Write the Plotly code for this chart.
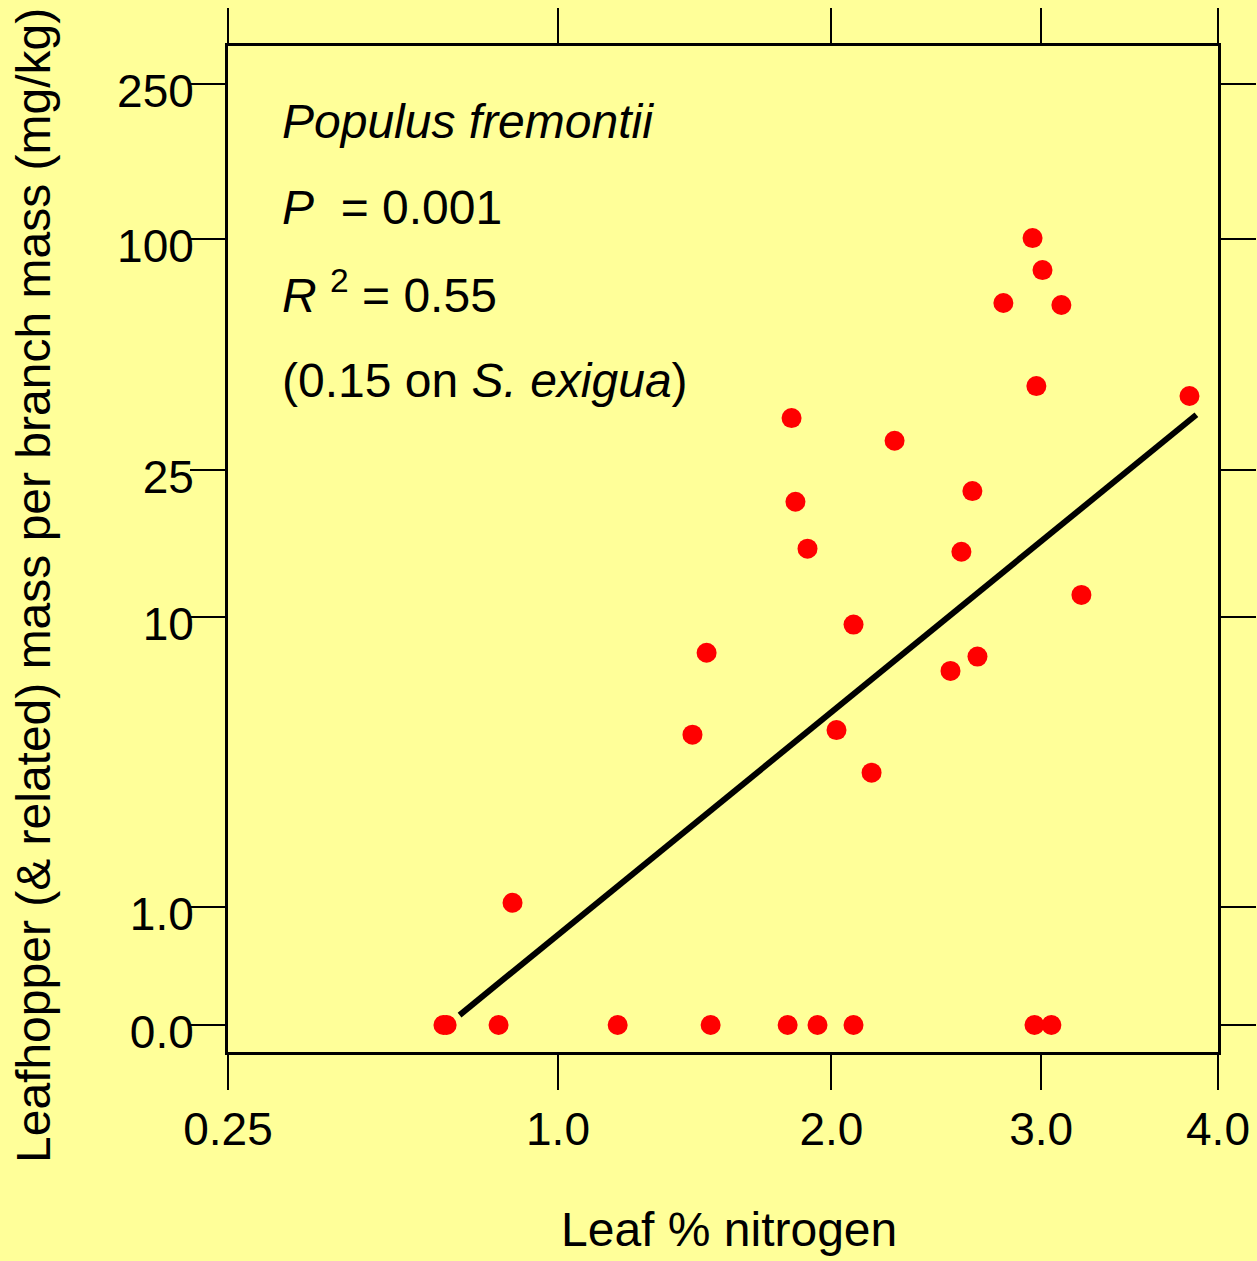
import numpy as np
import plotly.graph_objects as go

# ---- data ----
leaf_n = [0.683, 0.691, 0.828, 1.189, 1.516, 1.817, 1.941, 2.096, 2.965, 3.054,
          0.867, 1.449, 1.501, 1.833, 1.849, 1.899, 2.096, 2.022, 2.176, 2.280,
          2.543, 2.596, 2.650, 2.675, 2.805, 2.955, 3.007, 3.107, 2.975, 3.215, 3.829]
hopper_mass = [0, 0, 0, 0, 0, 0, 0, 0, 0, 0,
               1.05, 4.5, 7.9, 34.3, 20.6, 15.4, 9.5, 4.65, 3.4, 29.9,
               7.0, 15.1, 22.0, 7.7, 68.4, 100.6, 83.2, 67.6, 41.6, 11.5, 39.2]
fit_n = [0.724, 3.87]
fit_mass = [0.06, 35.0]

x_tick_vals = [0.25, 1.0, 2.0, 3.0, 4.0]
x_tick_text = ["0.25", "1.0", "2.0", "3.0", "4.0"]
y_tick_vals = [0, 1, 10, 25, 100, 250]
y_tick_text = ["0.0", "1.0", "10", "25", "100", "250"]


def tx(v):  # square-root scale for leaf % nitrogen
    return np.sqrt(np.asarray(v, dtype=float))


def ty(v):  # log(y+1) scale for mass
    return np.log10(np.asarray(v, dtype=float) + 1.0)


FONT = "Arial, Liberation Sans, sans-serif"
BG = "#FFFF99"

fig = go.Figure()
fig.add_trace(go.Scatter(x=tx(fit_n), y=ty(fit_mass), mode="lines",
                         line=dict(color="black", width=6), hoverinfo="skip",
                         showlegend=False))
fig.add_trace(go.Scatter(x=tx(leaf_n), y=ty(hopper_mass), mode="markers",
                         marker=dict(color="#FF0000", size=20, line=dict(width=0)),
                         showlegend=False))

axis_common = dict(showline=True, linewidth=3, linecolor="black", mirror="ticks",
                   ticks="outside", ticklen=35, tickwidth=2, tickcolor="black",
                   showgrid=False, zeroline=False, automargin=False,
                   tickfont=dict(family=FONT, size=46, color="black"))

fig.update_xaxes(range=[tx(0.25), tx(4.0)], tickmode="array",
                 tickvals=tx(x_tick_vals), ticktext=x_tick_text, **axis_common)
fig.update_yaxes(range=[-0.0689, 2.4968], tickmode="array",
                 tickvals=ty(y_tick_vals), ticktext=y_tick_text,
                 ticklabelshift=7, ticklabelstandoff=-13, **axis_common)

ann_font = dict(family=FONT, size=48, color="black")
lines = [
    ("<i>Populus fremontii</i>", 121),
    ("<i>P</i>\u00a0 = 0.001", 208),
    ("<i>R</i> <sup>2</sup> = 0.55", 292),
    ("(0.15 on <i>S. exigua</i>)", 380),
]
annotations = []
for txt, py in lines:
    annotations.append(dict(text=txt, x=(280 - 228) / 990, y=(1052 - py) / 1006,
                            xref="paper", yref="paper", xanchor="left", yanchor="middle",
                            showarrow=False, font=ann_font))
annotations.append(dict(text="Leaf % nitrogen", x=(729 - 228) / 990, y=(1052 - 1229) / 1006,
                        xref="paper", yref="paper", xanchor="center", yanchor="middle",
                        showarrow=False, font=dict(family=FONT, size=48, color="black")))
annotations.append(dict(text="Leafhopper (& related) mass per branch mass (mg/kg)",
                        x=(33 - 228) / 990, y=(1052 - 586) / 1006, textangle=-90,
                        xref="paper", yref="paper", xanchor="center", yanchor="middle",
                        showarrow=False, font=dict(family=FONT, size=48, color="black")))

fig.update_layout(width=1257, height=1261, paper_bgcolor=BG, plot_bgcolor=BG,
                  margin=dict(l=228, r=39, t=46, b=209, autoexpand=False),
                  annotations=annotations,
                  font=dict(family=FONT, color="black"))

fig.write_html("out.html", config={"displayModeBar": False},
               post_script="document.body.style.margin='0';document.body.style.overflow='hidden';")
